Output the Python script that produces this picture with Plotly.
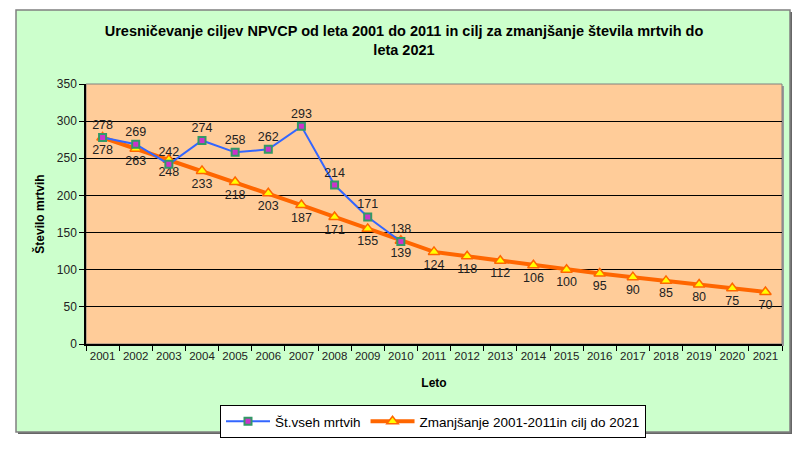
import plotly.graph_objects as go

years = [str(y) for y in range(2001, 2022)]
actual_years = [str(y) for y in range(2001, 2011)]
actual = [278, 269, 242, 274, 258, 262, 293, 214, 171, 138]
target = [278, 263, 248, 233, 218, 203, 187, 171, 155, 139, 124, 118, 112, 106, 100, 95, 90, 85, 80, 75, 70]

W, H = 800, 449
L, R, T, B = 86, 18, 84, 105
pw, ph = W - L - R, H - T - B

def px(x):
    return (x - L) / pw

def py(y):
    return (H - B - y) / ph

FONT = "Arial, Liberation Sans, sans-serif"

fig = go.Figure()
fig.add_trace(go.Scatter(
    x=years, y=target, name="Zmanjšanje 2001-2011in cilj do 2021",
    mode="lines+markers+text",
    line=dict(color="#FF6600", width=4),
    marker=dict(symbol="triangle-up", size=10, color="#FFFF00", line=dict(color="#FF6600", width=1.5)),
    text=[str(v) for v in target], textposition="bottom center",
    textfont=dict(family=FONT, size=12.5, color="#222222"),
))
fig.add_trace(go.Scatter(
    x=actual_years, y=actual, name="Št.vseh mrtvih",
    mode="lines+markers+text",
    line=dict(color="#3366FF", width=2),
    marker=dict(symbol="square", size=7, color="#CC33CC", line=dict(color="#339966", width=2)),
    text=[str(v) for v in actual], textposition="top center",
    textfont=dict(family=FONT, size=12.5, color="#222222"),
))

shapes = [
    dict(type="rect", xref="paper", yref="paper", x0=px(18), x1=px(792), y0=py(434), y1=py(12),
         fillcolor="#666666", line=dict(width=0), layer="below"),
    dict(type="rect", xref="paper", yref="paper", x0=px(16), x1=px(790), y0=py(432), y1=py(10),
         fillcolor="#CCFFCC", line=dict(color="#808080", width=1.5), layer="below"),
    dict(type="rect", xref="paper", yref="paper", x0=px(88), x1=px(784), y0=py(346), y1=py(86),
         fillcolor="#999999", line=dict(width=0), layer="below"),
    dict(type="rect", xref="paper", yref="paper", x0=0, x1=1, y0=0, y1=1,
         fillcolor="#FFCC99", line=dict(color="#808080", width=1), layer="below"),
]

fig.update_layout(
    width=W, height=H,
    margin=dict(l=L, r=R, t=T, b=B, autoexpand=False),
    paper_bgcolor="white",
    plot_bgcolor="rgba(0,0,0,0)",
    font=dict(family=FONT, size=12, color="#222222"),
    title=dict(
        text="<b>Uresničevanje ciljev NPVCP od leta 2001 do 2011 in cilj za zmanjšanje števila mrtvih do<br>leta 2021</b>",
        x=404 / W, xanchor="center", y=1 - 36 / H, yanchor="top",
        font=dict(family=FONT, size=14.5, color="#000000"),
    ),
    shapes=shapes,
    showlegend=True,
    legend=dict(
        orientation="h", x=px(433), xanchor="center", y=py(405), yanchor="top",
        bgcolor="white", bordercolor="#000000", borderwidth=1,
        font=dict(family=FONT, size=13.5, color="#000000"),
        traceorder="reversed", itemwidth=44,
    ),
    xaxis=dict(
        type="category", categoryorder="array", categoryarray=years,
        tickson="boundaries", ticks="outside", ticklen=5, tickcolor="#000000",
        showline=True, linecolor="#000000", linewidth=1.5,
        showgrid=False, tickfont=dict(size=11.5, color="#222222"), tickangle=0,
        automargin=False,
        title=dict(text="<b>Leto</b>", font=dict(size=12, color="#000000"), standoff=18),
        range=[-0.5, 20.5],
    ),
    yaxis=dict(
        range=[0, 350], dtick=50, ticks="outside", ticklen=5, tickcolor="#000000",
        showline=True, linecolor="#000000", linewidth=1.5,
        showgrid=True, gridcolor="#000000", gridwidth=1, zeroline=False,
        tickfont=dict(size=12, color="#222222"), automargin=False,
        title=dict(text="<b>Število mrtvih</b>", font=dict(size=12, color="#000000"), standoff=10),
    ),
)

fig.write_html("out.html", post_script="document.body.style.margin='0px';",
               config={"displayModeBar": False})
